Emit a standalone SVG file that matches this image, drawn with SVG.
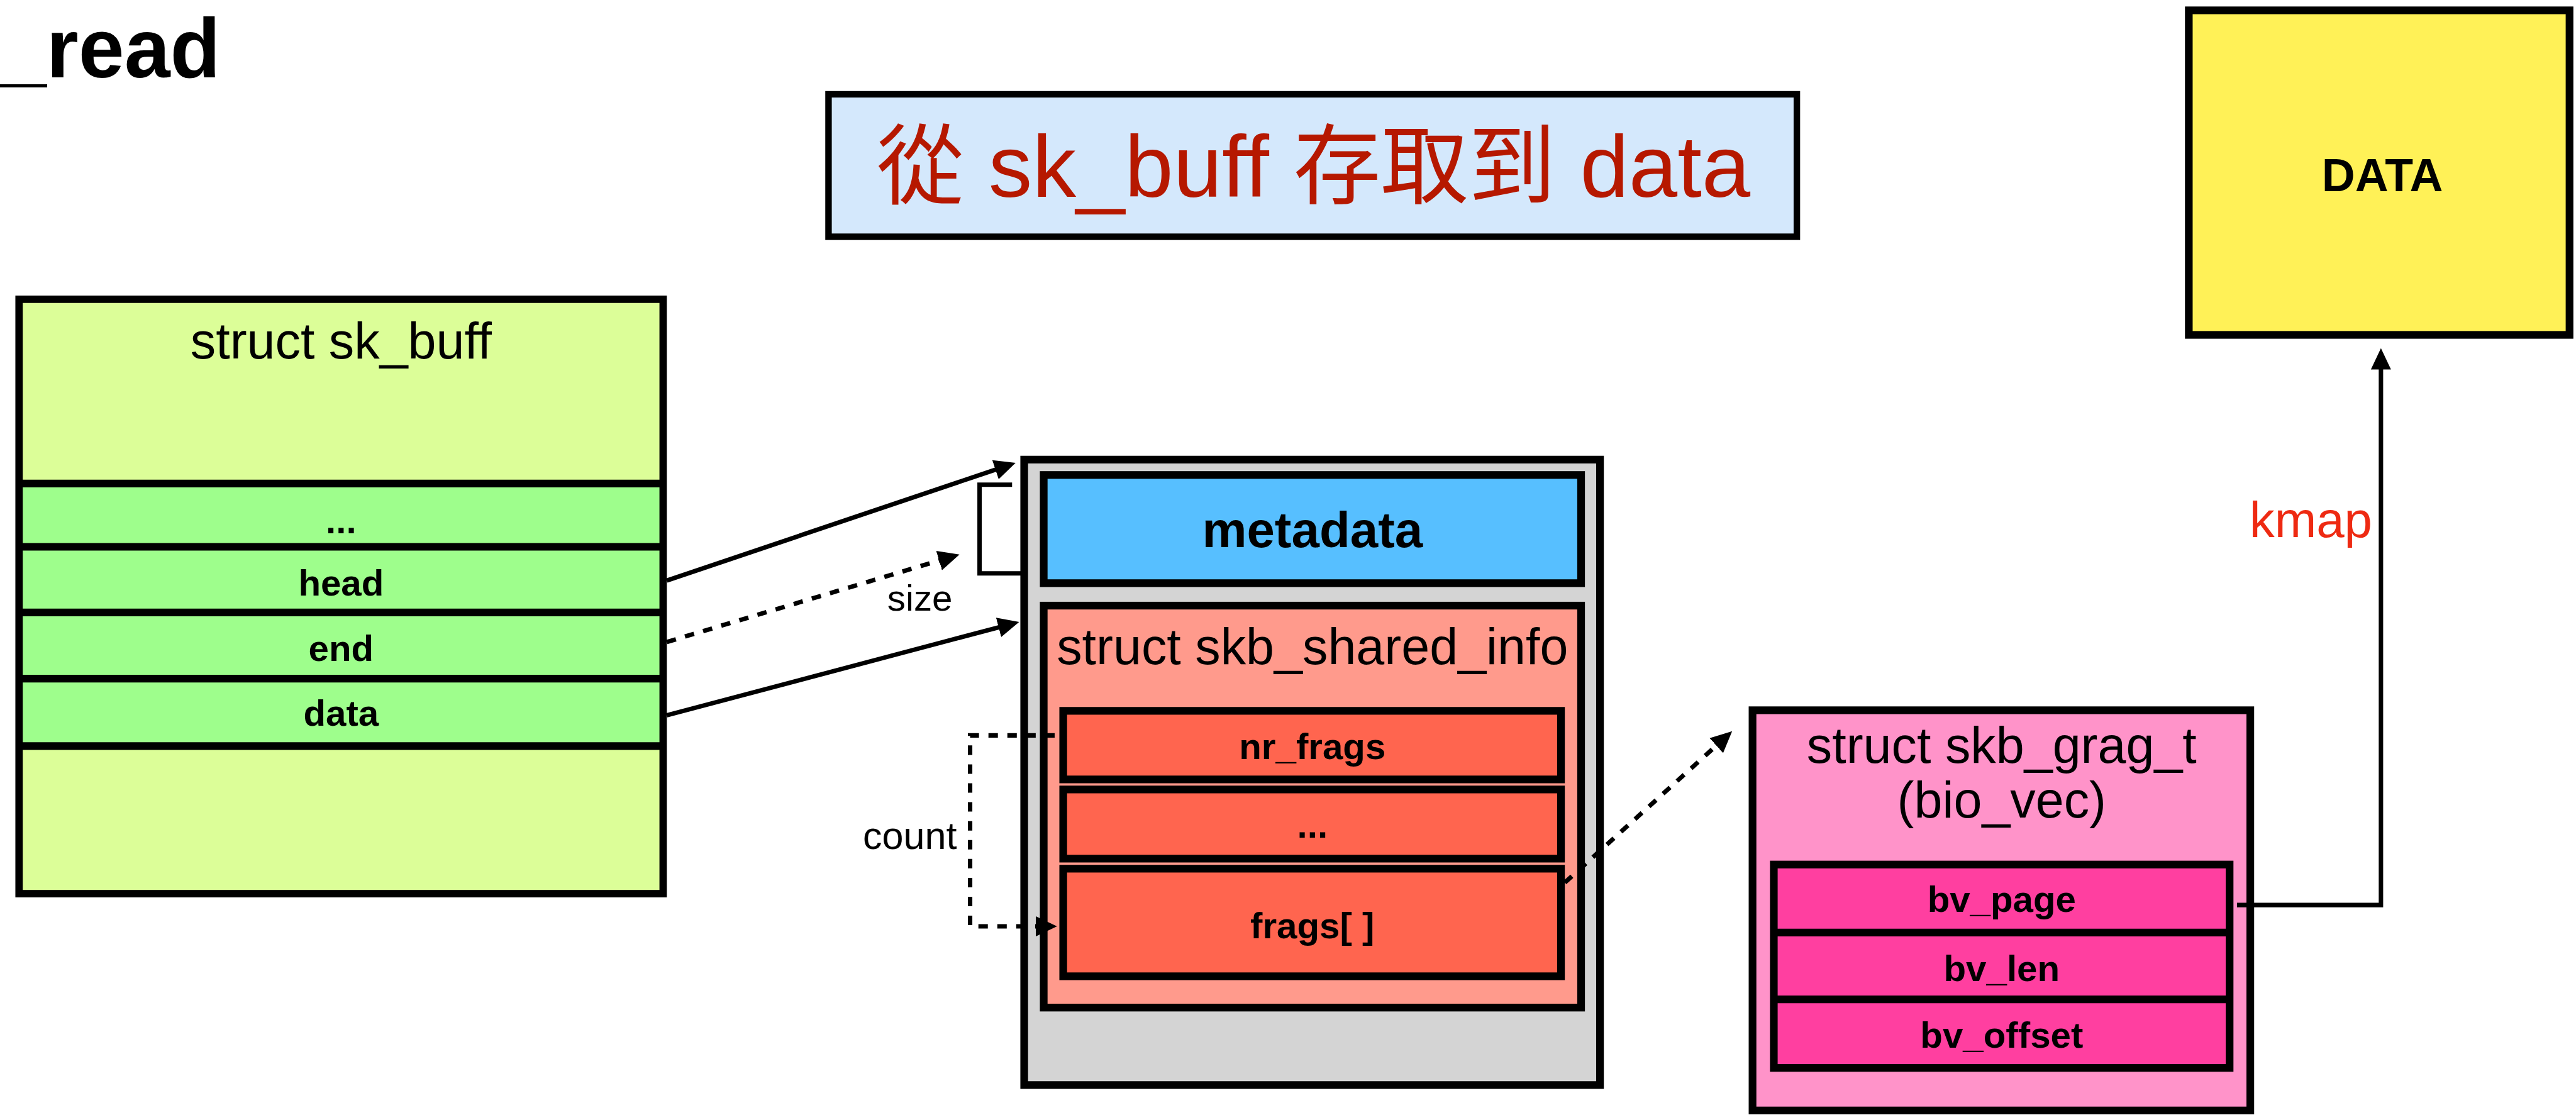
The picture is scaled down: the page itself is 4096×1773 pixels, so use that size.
<svg xmlns="http://www.w3.org/2000/svg" width="4096" height="1773" viewBox="0 0 4096 1773">
  <defs>
    <style>
      text { font-family: "Liberation Sans", Arial, Helvetica, "Noto Sans CJK TC", sans-serif; fill: #000; }
      .reg { font-size: 86px; text-anchor: middle; }
      .fld { font-size: 62px; font-weight: bold; text-anchor: middle; }
      .lbl { font-size: 62px; text-anchor: middle; }
      .box { stroke: #000; stroke-width: 13; }
      .div { stroke: #000; stroke-width: 13; fill: none; }
      .con { stroke: #000; stroke-width: 7.5; fill: none; }
      .dot { stroke-dasharray: 16 16; }
    </style>
    <marker id="arr" markerUnits="userSpaceOnUse" markerWidth="36" markerHeight="36" viewBox="0 0 36 36" refX="24" refY="18" orient="auto">
      <path d="M0,1 L36,18 L0,35 z" fill="#000"/>
    </marker>
  </defs>
  <rect x="0" y="0" width="4096" height="1773" fill="#fff"/>
  <g transform="scale(0.94)">
    <g id="page-title">
      <text x="1" y="131" textLength="372" lengthAdjust="spacingAndGlyphs" style="font-size:142px;font-weight:bold;">_read</text>
    </g>

    <g id="title-box">
      <rect x="1401.5" y="159.5" width="1638" height="241" fill="#D4E8FC" stroke="#000" stroke-width="11"/>
      <text x="2222" y="333" style="font-size:148px;text-anchor:middle;fill:#B61800;">從 sk_buff 存取到 data</text>
    </g>

    <g id="data-box">
      <rect class="box" x="3702.5" y="17.5" width="644" height="549" fill="#FFF157"/>
      <text x="4030" y="323" style="font-size:78px;font-weight:bold;text-anchor:middle;">DATA</text>
    </g>

    <g id="sk-buff">
      <rect x="32.25" y="506.25" width="1089.5" height="1005.5" fill="#DCFE98"/>
      <rect x="32.25" y="818" width="1089.5" height="444" fill="#9EFE8C"/>
      <line class="div" x1="32" y1="818" x2="1122" y2="818"/>
      <line class="div" x1="32" y1="925" x2="1122" y2="925"/>
      <line class="div" x1="32" y1="1036" x2="1122" y2="1036"/>
      <line class="div" x1="32" y1="1148" x2="1122" y2="1148"/>
      <line class="div" x1="32" y1="1262" x2="1122" y2="1262"/>
      <rect x="32.25" y="506.25" width="1089.5" height="1005.5" fill="none" stroke="#000" stroke-width="12.5"/>
      <text class="reg" x="577" y="606">struct sk_buff</text>
      <text class="fld" x="577" y="902">...</text>
      <text class="fld" x="577" y="1007">head</text>
      <text class="fld" x="577" y="1118">end</text>
      <text class="fld" x="577" y="1228">data</text>
    </g>

    <g id="buffer">
      <rect class="box" x="1732.5" y="777.5" width="974" height="1058" fill="#D4D4D4"/>
      <g id="metadata">
        <rect class="box" x="1765.5" y="803.5" width="909" height="183" fill="#57BFFF"/>
        <text x="2220" y="926" style="font-size:85px;font-weight:bold;text-anchor:middle;">metadata</text>
      </g>
      <g id="skb-shared-info">
        <rect class="box" x="1765.5" y="1024.5" width="909" height="680" fill="#FF9A8C"/>
        <text class="reg" x="2220" y="1123">struct skb_shared_info</text>
        <g id="nr-frags">
          <rect class="box" x="1798.5" y="1202.5" width="842" height="116" fill="#FF654F"/>
          <text class="fld" x="2220" y="1284">nr_frags</text>
        </g>
        <g id="shinfo-dots">
          <rect class="box" x="1798.5" y="1335.5" width="842" height="117" fill="#FF654F"/>
          <text class="fld" x="2220" y="1417">...</text>
        </g>
        <g id="frags">
          <rect class="box" x="1798.5" y="1469.5" width="842" height="182" fill="#FF654F"/>
          <text class="fld" x="2220" y="1587">frags[ ]</text>
        </g>
      </g>
    </g>

    <g id="skb-grag">
      <rect class="box" x="2964.5" y="1201.5" width="842" height="677" fill="#FF93C9"/>
      <text class="reg" x="3386" y="1290">struct skb_grag_t</text>
      <text class="reg" x="3386" y="1383">(bio_vec)</text>
      <rect class="box" x="3000.5" y="1462.5" width="771" height="344" fill="#FF3FA0"/>
      <line class="div" x1="3000" y1="1577.5" x2="3772" y2="1577.5"/>
      <line class="div" x1="3000" y1="1690.5" x2="3772" y2="1690.5"/>
      <text class="fld" x="3386" y="1543">bv_page</text>
      <text class="fld" x="3386" y="1660">bv_len</text>
      <text class="fld" x="3386" y="1772">bv_offset</text>
    </g>

    <g id="connectors">
      <path class="con" d="M1128,982 L1706.6,786.8" marker-end="url(#arr)"/>
      <path class="con dot" d="M1128,1086 L1611.5,941.4" marker-end="url(#arr)"/>
      <path class="con" d="M1128,1210 L1712.4,1055.1" marker-end="url(#arr)"/>
      <path class="con" d="M1712,820 H1657 V970 H1727" stroke-width="8"/>
      <path class="con dot" d="M1784,1244 H1641 V1567 H1776" marker-end="url(#arr)"/>
      <path class="con dot" d="M2647,1493 L2921.1,1245.1" marker-end="url(#arr)"/>
      <path class="con" d="M3784,1531 H4027.5 V601" stroke-width="8" marker-end="url(#arr)"/>
      <text x="1556" y="1033" class="lbl">size</text>
      <text x="1539" y="1436" style="font-size:65px;text-anchor:middle;">count</text>
      <text x="3805" y="909" style="font-size:85px;fill:#EE2A12;">kmap</text>
    </g>
  </g>
</svg>
